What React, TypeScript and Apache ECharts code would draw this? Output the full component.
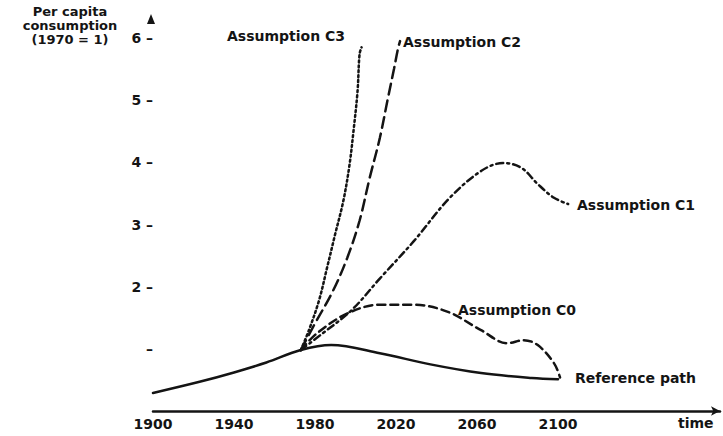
import React, { useEffect, useRef } from "react";
import * as echarts from "echarts";

// Per capita consumption (1970 = 1) versus time
const refYears = [1900, 1923, 1940, 1956, 1973, 1988, 2012, 2037, 2062, 2087, 2100];
const refValues = [0.29, 0.47, 0.62, 0.78, 0.98, 1.06, 0.93, 0.75, 0.61, 0.53, 0.51];

const c0Years = [1973, 1981, 1996, 2012, 2029, 2046, 2062, 2075, 2083, 2090, 2098, 2101];
const c0Values = [0.98, 1.25, 1.57, 1.71, 1.71, 1.59, 1.3, 1.09, 1.14, 1.06, 0.77, 0.54];

const c1Years = [1973, 1983, 1998, 2012, 2029, 2046, 2062, 2073, 2082, 2090, 2098, 2105];
const c1Values = [0.98, 1.23, 1.62, 2.13, 2.74, 3.41, 3.86, 3.99, 3.91, 3.65, 3.43, 3.33];

const c2Years = [1973, 1979, 1989, 1996, 2002, 2007, 2012, 2016, 2019, 2021, 2022];
const c2Values = [0.98, 1.35, 1.94, 2.47, 3.06, 3.75, 4.39, 5.03, 5.5, 5.83, 5.95];

const c3Years = [1973, 1977, 1982, 1986, 1990, 1994, 1997, 1999, 2001, 2002, 2003];
const c3Values = [0.98, 1.3, 1.78, 2.31, 2.85, 3.38, 3.95, 4.5, 5.14, 5.74, 5.85];

const xTickLabels = [1900, 1940, 1980, 2020, 2060, 2100];
const yTicks = [1, 2, 3, 4, 5, 6];

const seriesNames = ["Reference path", "Assumption C0", "Assumption C1", "Assumption C2", "Assumption C3"];

const INK = "#141414";
const FONT = "DejaVu Sans";

const pairs = (xs: number[], ys: number[]) => xs.map((x, i) => [x, ys[i]]);

export default function App() {
  const ref = useRef<HTMLDivElement>(null);

  useEffect(() => {
    if (!ref.current) return;
    const chart = echarts.init(ref.current, null, { renderer: "svg" });

    const lineSeries = (name: string, xs: number[], ys: number[], type: any, width: number) => ({
      name,
      type: "line",
      data: pairs(xs, ys),
      showSymbol: false,
      smooth: 0.35,
      lineStyle: { color: INK, width, type, cap: "round" },
      z: 3,
    });

    const labelText = (text: string, x: number, y: number) => ({
      type: "text",
      x,
      y,
      style: {
        text,
        fill: INK,
        font: `bold 14px "${FONT}"`,
        textVerticalAlign: "middle",
      },
    });

    chart.setOption({
      animation: false,
      backgroundColor: "#ffffff",
      grid: { left: 153, right: 3, top: 38, bottom: 25, containLabel: false },
      xAxis: {
        type: "value",
        min: 1900,
        max: 2180,
        interval: 40,
        axisLine: {
          show: true,
          lineStyle: { color: INK, width: 2.5 },
          symbol: ["none", "arrow"],
          symbolSize: [7, 9],
        },
        axisTick: { show: false },
        splitLine: { show: false },
        axisLabel: {
          margin: 6,
          color: INK,
          fontFamily: FONT,
          fontWeight: "bold",
          fontSize: 14,
          formatter: (v: number) => (xTickLabels.includes(v) ? String(v) : ""),
        },
      },
      yAxis: {
        type: "value",
        min: 0,
        max: 6,
        interval: 1,
        axisLine: { show: false },
        axisTick: { show: false },
        splitLine: { show: false },
        axisLabel: {
          margin: 0,
          color: INK,
          fontFamily: FONT,
          fontWeight: "bold",
          fontSize: 14,
          formatter: (v: number) => (yTicks.includes(v) ? (v === 1 ? "–" : `${v} –`) : ""),
        },
      },
      graphic: [
        {
          type: "text",
          x: 70,
          y: 4,
          style: {
            text: "Per capita\nconsumption\n(1970 = 1)",
            fill: INK,
            font: `bold 13px "${FONT}"`,
            textAlign: "center",
            lineHeight: 14,
          },
        },
        {
          type: "polygon",
          shape: { points: [[151, 14], [147, 24], [155, 24]] },
          style: { fill: INK },
        },
        {
          type: "text",
          x: 678,
          y: 416,
          style: { text: "time", fill: INK, font: `bold 14px "${FONT}"` },
        },
        labelText(seriesNames[4], 227, 36),
        labelText(seriesNames[3], 403, 42),
        labelText(seriesNames[2], 577, 205),
        labelText(seriesNames[1], 458, 310),
        labelText(seriesNames[0], 575, 378),
      ],
      series: [
        lineSeries(seriesNames[0], refYears, refValues, "solid", 2.5),
        lineSeries(seriesNames[1], c0Years, c0Values, [8, 5], 2.5),
        lineSeries(seriesNames[2], c1Years, c1Values, [7, 4, 2, 4], 2.5),
        lineSeries(seriesNames[3], c2Years, c2Values, [11, 6], 2.5),
        lineSeries(seriesNames[4], c3Years, c3Values, [2, 3], 2.5),
      ],
    });

    return () => chart.dispose();
  }, []);

  return (
    <div
      ref={ref}
      style={{ position: "fixed", left: 0, top: 0, width: 723, height: 436, background: "#fff" }}
    />
  );
}
